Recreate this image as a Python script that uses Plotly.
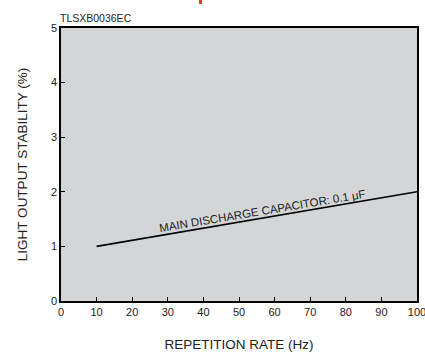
import plotly.graph_objects as go

rate_hz = [10, 100]
stability_pct = [1.0, 2.0]
x_ticks = [0, 10, 20, 30, 40, 50, 60, 70, 80, 90, 100]
y_ticks = [0, 1, 2, 3, 4, 5]

FONT = "Liberation Sans, Arial, Helvetica, sans-serif"

fig = go.Figure()
fig.add_trace(go.Scatter(x=rate_hz, y=stability_pct, mode="lines",
                         line=dict(color="black", width=1.6), showlegend=False,
                         hoverinfo="skip"))

fig.add_annotation(x=56.5, y=1.65, xref="x", yref="y",
                   text="MAIN DISCHARGE CAPACITOR: 0.1 μF", showarrow=False,
                   textangle=-9.5, font=dict(family=FONT, size=11.5, color="#222"))
fig.add_annotation(x=0, y=1.0, xref="paper", yref="paper", xanchor="left", yanchor="bottom",
                   yshift=2, xshift=-3, text="TLSXB0036EC", showarrow=False,
                   font=dict(family=FONT, size=10.5, color="#222"))

fig.add_shape(type="rect", xref="paper", yref="paper", x0=0.3876, x1=0.396, y0=1.088, y1=1.12,
              fillcolor="#c9462b", line=dict(width=0))

axis_common = dict(showgrid=False, zeroline=False, showline=True, linecolor="black",
                   linewidth=1.5, mirror=True, ticks="inside", ticklen=4, tickwidth=1,
                   tickcolor="black", automargin=False, ticklabeloverflow="allow",
                   tickfont=dict(family=FONT, size=11, color="#222"))

fig.update_xaxes(range=[0, 100], tickvals=x_ticks, **axis_common,
                 title=dict(text="REPETITION RATE (Hz)", standoff=25,
                            font=dict(family=FONT, size=13.5, color="#222")))
fig.update_yaxes(range=[0, 5], tickvals=y_ticks, **axis_common,
                 title=dict(text="LIGHT OUTPUT STABILITY (%)", standoff=20,
                            font=dict(family=FONT, size=13.5, color="#222")))

fig.update_layout(width=425, height=352, margin=dict(l=61, r=8, t=28, b=51),
                  plot_bgcolor="#d4d5d7", paper_bgcolor="white")
fig.write_html("out.html")
